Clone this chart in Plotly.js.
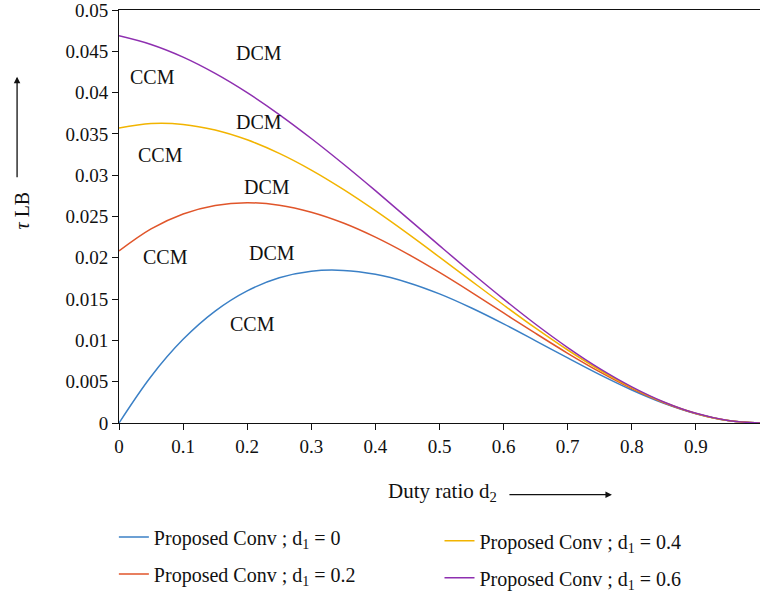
<!DOCTYPE html>
<html>
<head>
<meta charset="utf-8">
<script src="https://cdn.plot.ly/plotly-3.0.1.min.js"></script>
<style>html,body{margin:0;padding:0;background:#fff;}</style>
</head>
<body>
<div id="chart" style="width:760px;height:599px;"></div>
<script>
const dutyRatio = [0, 0.05, 0.1, 0.15, 0.2, 0.25, 0.3, 0.35, 0.4, 0.45, 0.5, 0.55, 0.6, 0.65, 0.7, 0.75, 0.8, 0.85, 0.9, 0.95, 1.0];
const tauD1_0  = [0, 0.00564, 0.01013, 0.01355, 0.0160, 0.01758, 0.01838, 0.01848, 0.0180, 0.01702, 0.01563, 0.01392, 0.0120, 0.00995, 0.00788, 0.00586, 0.0040, 0.00239, 0.00113, 0.0003, 0];
const tauD1_02 = [0.02083, 0.0235, 0.02531, 0.02634, 0.02667, 0.02637, 0.02552, 0.02421, 0.0225, 0.02048, 0.01823, 0.01582, 0.01333, 0.01085, 0.00844, 0.00619, 0.00417, 0.00246, 0.00115, 0.0003, 0];
const tauD1_04 = [0.03571, 0.03626, 0.03616, 0.03548, 0.03429, 0.03265, 0.03063, 0.02829, 0.02571, 0.02296, 0.02009, 0.01718, 0.01429, 0.01148, 0.00884, 0.00642, 0.00429, 0.00251, 0.00116, 0.0003, 0];
const tauD1_06 = [0.04688, 0.04583, 0.0443, 0.04233, 0.04, 0.03735, 0.03445, 0.03136, 0.02813, 0.02481, 0.02148, 0.01819, 0.015, 0.01196, 0.00914, 0.00659, 0.00438, 0.00255, 0.00117, 0.0003, 0];
const seriesNames = ["Proposed Conv ; d<sub>1</sub> = 0", "Proposed Conv ; d<sub>1</sub> = 0.2", "Proposed Conv ; d<sub>1</sub> = 0.4", "Proposed Conv ; d<sub>1</sub> = 0.6"];
const xTickVals = [0, 0.1, 0.2, 0.3, 0.4, 0.5, 0.6, 0.7, 0.8, 0.9];
const yTickVals = [0, 0.005, 0.01, 0.015, 0.02, 0.025, 0.03, 0.035, 0.04, 0.045, 0.05];
const yTickText = ["0", "0.005", "0.01", "0.015", "0.02", "0.025", "0.03", "0.035", "0.04", "0.045", "0.05"];
const modeLabelText = ["DCM", "CCM", "DCM", "CCM", "DCM", "CCM", "DCM", "CCM"];
const modeLabelX = [0.218, 0.053, 0.218, 0.064, 0.231, 0.073, 0.239, 0.209];
const modeLabelY = [0.04482, 0.04193, 0.03639, 0.03241, 0.02855, 0.02012, 0.0206, 0.01193];

const colors = ["#3b80c6", "#e0552a", "#f2b400", "#8e2fb0"];
const serif = "Liberation Serif, DejaVu Serif, serif";
const ys = [tauD1_0, tauD1_02, tauD1_04, tauD1_06];
const legendIds = ["legend", "legend", "legend2", "legend2"];

const traces = ys.map((y, i) => ({
  x: dutyRatio, y: y, type: "scatter", mode: "lines",
  name: seriesNames[i], legend: legendIds[i], legendgroup: "g" + i,
  line: {color: colors[i], width: 1.5, shape: "spline"}
}));

const annotations = modeLabelText.map((t, i) => ({
  x: modeLabelX[i], y: modeLabelY[i], xref: "x", yref: "y",
  text: t, showarrow: false, font: {family: serif, size: 20, color: "#111"}
}));

annotations.push({
  xref: "paper", yref: "paper", x: -0.151, y: 0.515, xanchor: "center", yanchor: "middle",
  text: "<i>τ</i> LB", textangle: -90,
  showarrow: false, font: {family: serif, size: 20, color: "#111"}
});
annotations.push({
  xref: "paper", yref: "paper", x: -0.159, y: 0.8386, ax: 0, ay: 102, text: "",
  showarrow: true, arrowhead: 2, arrowsize: 1, arrowwidth: 1.3, arrowcolor: "#111"
});
annotations.push({
  xref: "paper", yref: "paper", x: 0.504, y: -0.166, xanchor: "center", yanchor: "middle",
  text: "Duty ratio d<sub>2</sub>",
  showarrow: false, font: {family: serif, size: 21, color: "#111"}
});
annotations.push({
  xref: "paper", yref: "paper", x: 0.769, y: -0.1735, ax: -104, ay: 0, text: "",
  showarrow: true, arrowhead: 2, arrowsize: 1, arrowwidth: 1.3, arrowcolor: "#111"
});

const legendFont = {family: serif, size: 20, color: "#111"};

const layout = {
  width: 760, height: 599,
  margin: {l: 119, r: 0, t: 10, b: 176},
  paper_bgcolor: "#fff", plot_bgcolor: "#fff",
  font: {family: serif, size: 19, color: "#111"},
  xaxis: {
    range: [0, 1], tickvals: xTickVals, showgrid: false, zeroline: false,
    showline: true, linecolor: "#111", linewidth: 1, mirror: true,
    ticks: "outside", ticklen: 6, tickcolor: "#111",
    tickfont: {family: serif, size: 19, color: "#111"}
  },
  yaxis: {
    range: [0, 0.05001], tickvals: yTickVals, ticktext: yTickText, showgrid: false, zeroline: false,
    showline: true, linecolor: "#111", linewidth: 1,
    ticks: "outside", ticklen: 6, tickcolor: "#111", ticklabeloverflow: "allow",
    tickfont: {family: serif, size: 19, color: "#111"}
  },
  showlegend: true,
  legend: {
    orientation: "v", x: -0.008, xanchor: "left", y: -0.229, yanchor: "top",
    tracegroupgap: 8, font: legendFont, bgcolor: "rgba(0,0,0,0)"
  },
  legend2: {
    orientation: "v", x: 0.500, xanchor: "left", y: -0.238, yanchor: "top",
    tracegroupgap: 8, font: legendFont, bgcolor: "rgba(0,0,0,0)"
  },
  annotations: annotations
};

Plotly.newPlot("chart", traces, layout, {displayModeBar: false, staticPlot: true});
</script>
</body>
</html>
